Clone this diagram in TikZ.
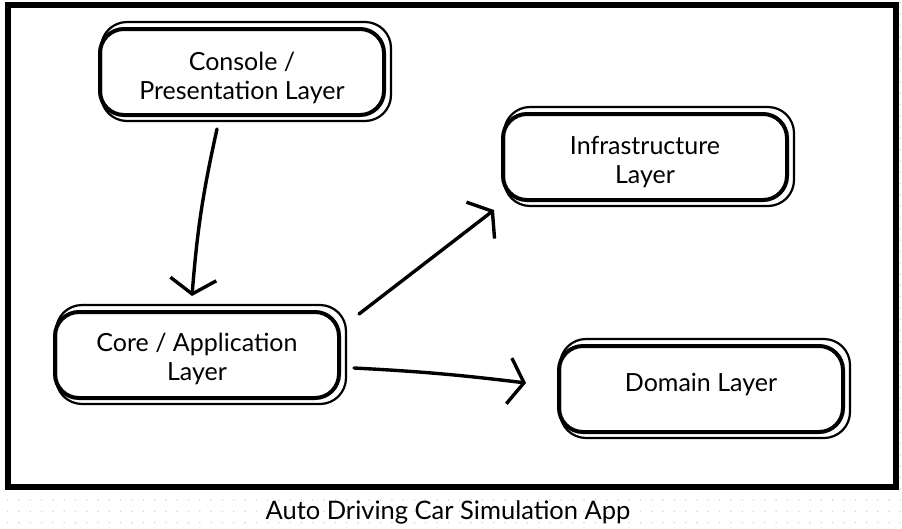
\documentclass[tikz,border=0pt]{standalone}
\usepackage{fontspec}
\setmainfont{Lato}
\usetikzlibrary{arrows.meta,positioning}

\begin{document}
\begin{tikzpicture}[x=1pt,y=-1pt,
        layer/.style={draw, line width=4pt, rounded corners=24pt, fill=white,
            minimum width=284pt, minimum height=86pt, align=center,
            font=\fontsize{25}{29}\selectfont},
        sketch/.style={line width=2.2pt, rounded corners=26pt},
        flow/.style={line width=3.4pt, line cap=round,
            -{Straight Barb[length=15pt,width=46pt,line width=3.4pt]}}]
    \useasboundingbox (0,0) rectangle (902,528);

    % dotted background
    \foreach \i in {0,...,79}
        \foreach \j in {0,...,46}
            \fill[gray!30] (7.7+11.3*\i, 2.8+11.3*\j) circle (0.9pt);

    % frame
    \draw[line width=6pt, fill=white] (8,4.5) rectangle (896,486.5);

    % layers
    \node[layer] (con) at (242,72) {\rule{0pt}{30pt}Console /\\Presentation Layer};
    \node[layer] (inf) at (645,157) {\rule{0pt}{29pt}Infrastructure\\Layer};
    \node[layer] (core) at (197,355) {\rule{0pt}{27pt}Core / Application\\Layer};
    \node[layer] (dom) at (701,389) {\rule[-14pt]{0pt}{0pt}Domain Layer};

    \foreach \n in {con,inf,core,dom}
        \draw[sketch] ([shift={(3,-5)}]\n.north west) rectangle ([shift={(5,4)}]\n.south east);

    % dependencies
    \draw[flow] ([shift={(-25,12)}]con.south) to[bend right=4] ([shift={(-5,-14)}]core.north);
    \draw[flow] ([shift={(18,4)}]core.north east) -- ([shift={(-7,8)}]inf.south west);
    \draw[flow] ([shift={(13,13)}]core.east) to[bend left=2] ([shift={(-31,-6)}]dom.west);

    \node[font=\fontsize{25.5}{30}\selectfont] (title) at (448,512) {Auto Driving Car Simulation App};
\end{tikzpicture}
\end{document}
